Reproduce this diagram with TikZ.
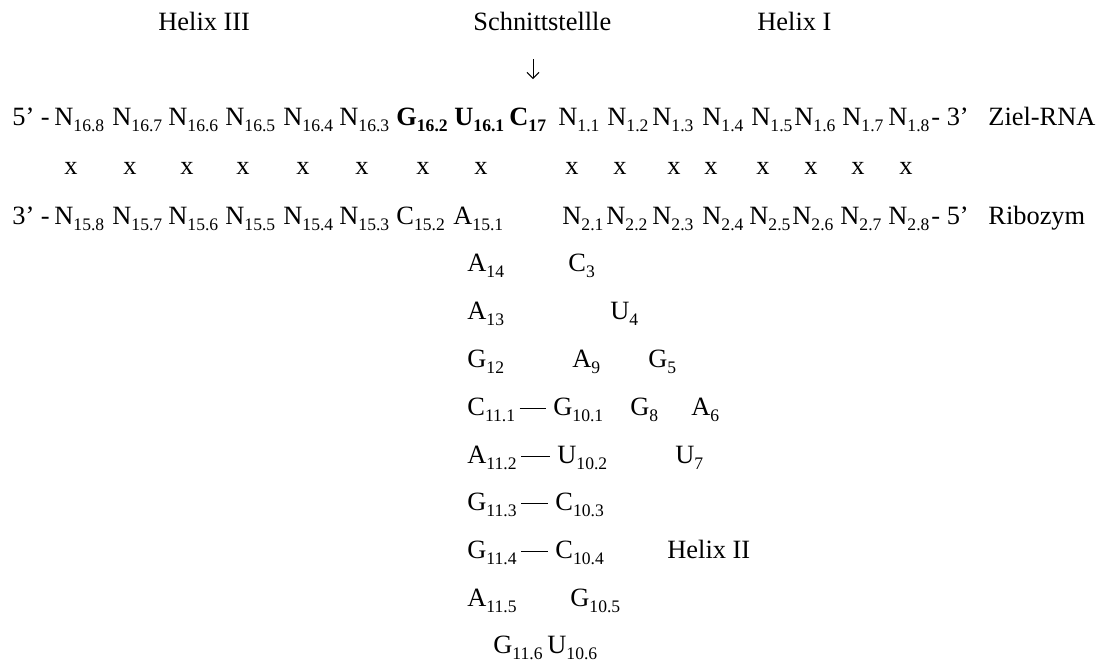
\documentclass[tikz,border=0pt]{standalone}
\usepackage{fontspec}
\setmainfont{Liberation Serif}
\usetikzlibrary{arrows.meta}
\newcommand{\nt}[2]{#1\raisebox{-3.2pt}{\fontsize{8.8}{10}\selectfont #2}}
\newcommand{\bnt}[2]{\textbf{#1\raisebox{-3.2pt}{\fontsize{8.8}{10}\selectfont #2}}}
\begin{document}
\begin{tikzpicture}[x=0.5pt,y=-0.5pt,
  every node/.style={inner sep=0pt,anchor=base west,font=\fontsize{13.2}{15}\selectfont},
  pair/.style={line width=0.6pt,shorten <=2pt,shorten >=3.5pt},
  cutarrow/.style={line width=0.5pt,-{Straight Barb[length=3pt,width=6pt]}}]
\useasboundingbox (0,0) rectangle (1100,666);
% Ueberschriften
\node (h3) at (158,30) {Helix III};
\node (cut) at (473,30) {Schnittstellle};
\node (h1) at (757,30) {Helix I};
\coordinate (pfeilA) at (533,59);
\coordinate (pfeilB) at (533,79);
\draw[cutarrow] (pfeilA) -- (pfeilB);
% Ziel-RNA
\node (z5) at (12,125) {5’ -};
\foreach \x/\i [count=\k] in {54/16.8,112/16.7,168/16.6,225/16.5,283/16.4,339/16.3}
  \node (zl\k) at (\x,125) {\nt{N}{\i}};
\node (g162) at (396,125) {\bnt{G}{16.2}};
\node (u161) at (454,125) {\bnt{U}{16.1}};
\node (c17) at (509,125) {\bnt{C}{17}};
\foreach \x/\i [count=\k] in {558/1.1,607/1.2,652/1.3,702/1.4,751/1.5,794/1.6,842/1.7,888/1.8}
  \node (zr\k) at (\x,125) {\nt{N}{\i}};
\node (z3) at (931,125) {- 3’};
\node (ziel) at (988,125) {Ziel-RNA};
% Paarungen
\foreach \x [count=\k] in {64,123,180,236,296,355,416,474,565,613,667,704,756,804,851,899}
  \node (x\k) at (\x,174) {x};
% Ribozym
\node (r3) at (12,224) {3’ -};
\foreach \x/\i [count=\k] in {54/15.8,112/15.7,168/15.6,225/15.5,283/15.4,339/15.3}
  \node (rl\k) at (\x,224) {\nt{N}{\i}};
\node (c152) at (396,224) {\nt{C}{15.2}};
\node (a151) at (453,224) {\nt{A}{15.1}};
\foreach \x/\i [count=\k] in {562/2.1,606/2.2,652/2.3,702/2.4,749/2.5,792/2.6,840/2.7,888/2.8}
  \node (rr\k) at (\x,224) {\nt{N}{\i}};
\node (r5) at (931,224) {- 5’};
\node (ribo) at (988,224) {Ribozym};
% Core und Helix II
\node (a14) at (467,271) {\nt{A}{14}};
\node (c3) at (568,271) {\nt{C}{3}};
\node (a13) at (467,319) {\nt{A}{13}};
\node (u4) at (610,319) {\nt{U}{4}};
\node (g12) at (467,367) {\nt{G}{12}};
\node (a9) at (572,367) {\nt{A}{9}};
\node (g5) at (648,367) {\nt{G}{5}};
\node (c111) at (467,415) {\nt{C}{11.1}};
\node (g101) at (553,415) {\nt{G}{10.1}};
\node (g8) at (630,415) {\nt{G}{8}};
\node (a6) at (691,415) {\nt{A}{6}};
\node (a112) at (467,463) {\nt{A}{11.2}};
\node (u102) at (557,463) {\nt{U}{10.2}};
\node (u7) at (675,463) {\nt{U}{7}};
\node (g113) at (467,510) {\nt{G}{11.3}};
\node (c103) at (555,510) {\nt{C}{10.3}};
\node (g114) at (467,558) {\nt{G}{11.4}};
\node (c104) at (555,558) {\nt{C}{10.4}};
\node (h2) at (667,558) {Helix II};
\node (a115) at (467,606) {\nt{A}{11.5}};
\node (g105) at (570,606) {\nt{G}{10.5}};
\node (g116) at (493,653) {\nt{G}{11.6}};
\node (u106) at (547,653) {\nt{U}{10.6}};
\foreach \a/\b in {c111/g101,a112/u102,g113/c103,g114/c104}
  \draw[pair] ([yshift=3.4pt]\a.base east) -- ([yshift=3.4pt]\b.base west);
\end{tikzpicture}
\end{document}
